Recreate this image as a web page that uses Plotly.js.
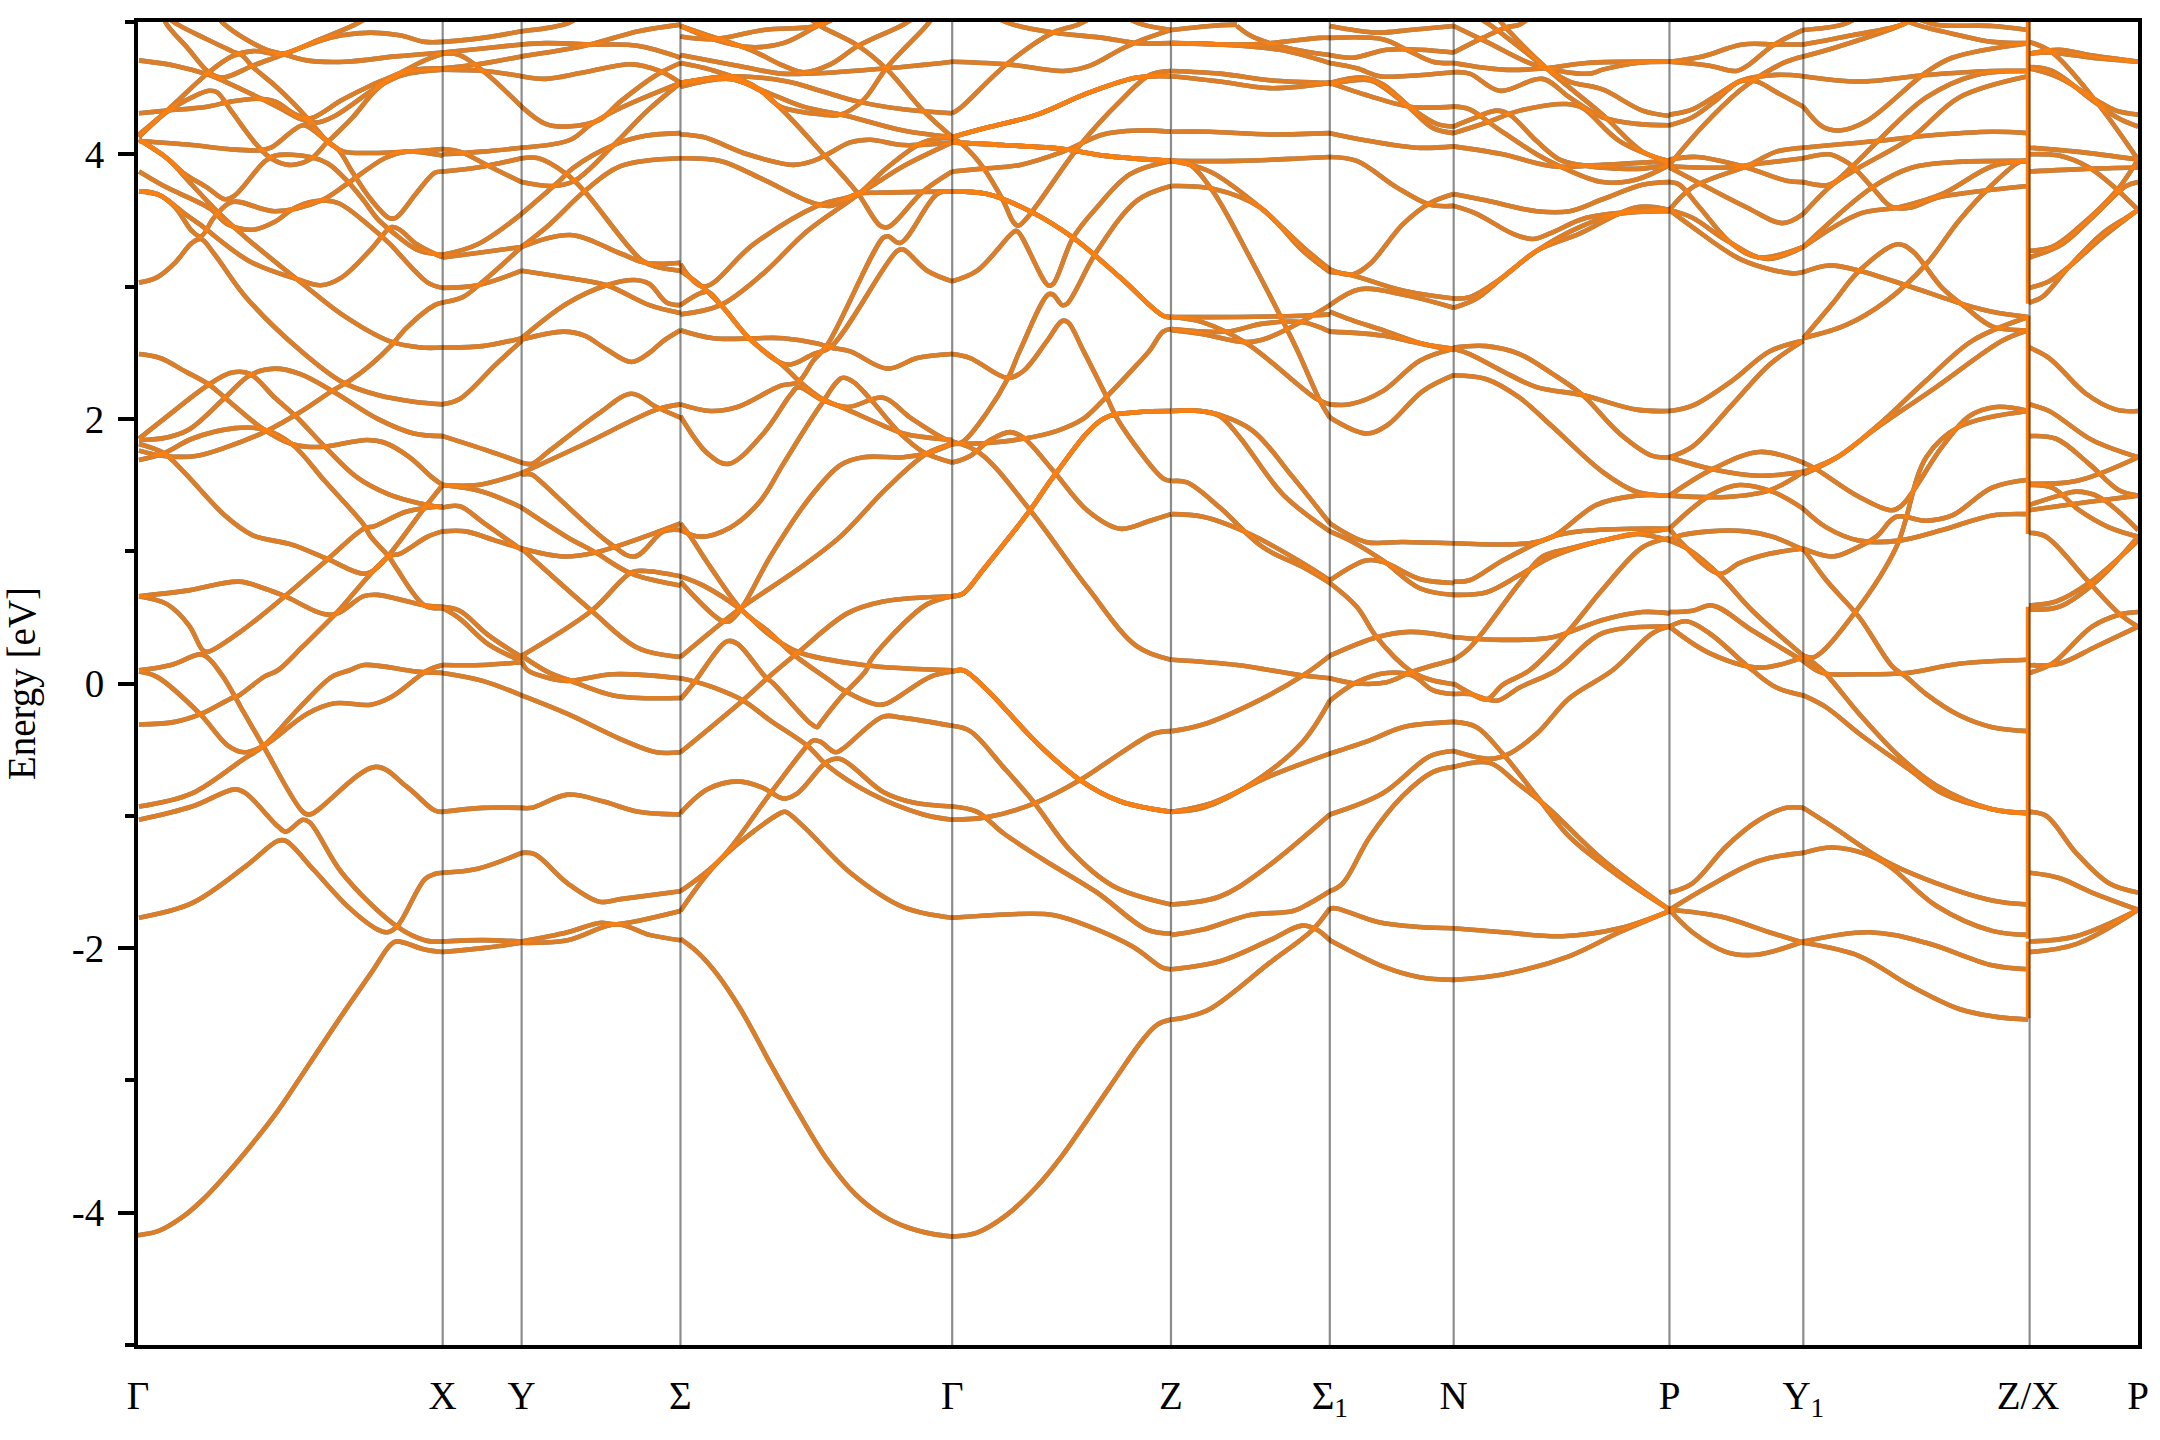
<!DOCTYPE html>
<html><head><meta charset="utf-8"><script src="https://cdn.plot.ly/plotly-3.0.1.min.js"></script>
<style>html,body{margin:0;padding:0;background:#fff}</style></head><body><div id="c" style="width:2160px;height:1440px"></div>
<script>
const kTicks=[0,305,384,543,815,1034,1193,1317,1533,1667,1892,2002];
const kLabels=['Γ','X','Y','Σ','Γ','Z','Σ<sub>1</sub>','N','P','Y<sub>1</sub>','Z/X','P'];
const eTicks=[-4,-2,0,2,4];
const eLabels=['-4','-2','0','2','4'];
const jumpZX=[[5,2.87],[2.78,1.13],[.58,-1.93],[-1.95,-2.53]];
// each band piece: k, E, k, E ...
const GX=[
[24,5.06,29,4.98,50,4.80,71,4.62,85,4.58,115,4.67,144,4.75,183,4.86,204,4.90,233,4.92,262,4.90,287,4.85,305,4.85],
[78,5.05,87,4.98,108,4.87,129,4.79,144,4.76,169,4.71,208,4.70,258,4.74,305,4.77],
[1,4.15,29,4.33,71,4.62,94,4.74,115,4.78,144,4.76,179,4.86,217,4.98,240,5.08],
[25,5.06,40,4.98,69,4.87,97,4.77,104,4.75,115,4.66,137,4.52,155,4.39,172,4.25,188,4.11,201,4.03,215,3.86,233,3.66,251,3.52,258,3.52,279,3.71,297,3.86,305,3.87],
[1,4.71,37,4.67,71,4.60,87,4.55,126,4.41,144,4.34,165,4.26,179,4.24,197,4.29,240,4.51,265,4.60,305,4.64],
[1,4.31,29,4.33,69,4.36,94,4.40,119,4.42,137,4.40,158,4.30,172,4.27,204,4.41,233,4.52,258,4.60,287,4.71,305,4.76],
[1,4.13,29,4.32,54,4.43,71,4.48,79,4.47,94,4.32,119,4.07,133,3.97,151,3.92,172,3.96,188,4.08,195,4.13,215,4.28,240,4.50,265,4.62,305,4.65],
[1,4.10,54,4.07,90,4.04,122,4.03,133,4.05,165,4.22,176,4.18,194,4.07,206,4.02,233,4.01,269,4.02,305,4.04],
[1,4.11,29,3.97,47,3.85,69,3.75,87,3.66,97,3.69,126,3.94,137,3.99,172,3.98,190,3.93,208,3.81,226,3.65,240,3.51,255,3.41,279,3.28,305,3.24],
[1,3.87,26,3.76,72,3.59,90,3.47,115,3.43,137,3.49,158,3.60,183,3.65,201,3.63,233,3.45,251,3.33,290,3.03,305,2.99],
[1,3.72,19,3.70,37,3.60,54,3.42,63,3.38,76,3.52,94,3.64,137,3.57,183,3.65,208,3.77,247,3.97,269,4.02,297,4.00,305,3.99],
[1,3.72,22,3.69,47,3.55,62,3.47,112,3.19,162,3.05,183,3.01,204,3.07,233,3.28,254,3.45,262,3.43,279,3.32,305,3.22],
[1,4.11,29,3.97,54,3.77,79,3.57,108,3.37,165,3.02,204,2.79,251,2.59,283,2.54,305,2.54],
[1,3.03,19,3.07,37,3.18,54,3.33,63,3.36,76,3.25,108,2.92,162,2.52,204,2.28,240,2.18,276,2.13,305,2.11],
[1,1.76,26,1.72,58,1.72,90,1.79,129,1.91,162,2.05,194,2.21,212,2.29,233,2.41,254,2.56,269,2.69,297,2.86,305,2.88],
[1,2.49,22,2.46,47,2.36,71,2.26,87,2.16,126,1.92,154,1.81,169,1.79,187,1.79,229,1.84,247,1.82,272,1.71,294,1.56,305,1.50],
[1,1.85,26,2.00,71,2.26,94,2.35,112,2.34,137,2.16,158,2.02,187,1.79,219,1.56,251,1.43,283,1.36,305,1.33],
[1,1.84,29,1.86,51,1.92,87,2.16,112,2.33,137,2.38,162,2.34,197,2.20,240,2.00,276,1.89,305,1.87],
[1,1.69,26,1.74,54,1.85,97,1.93,126,1.92,154,1.81,187,1.53,226,1.20,233,1.11,251,.96,258,.88,287,.59,305,.57],
[1,1.81,26,1.74,47,1.59,87,1.27,115,1.12,154,1.05,190,.94,226,.83,240,.88,287,1.33,305,1.50],
[1,.66,29,.60,51,.44,65,.25,70,.24,104,.40,147,.66,190,.94,226,1.17,237,1.19,269,1.30,305,1.34],
[1,-.31,37,-.29,63,-.23,94,-.11,101,-.09,126,.05,140,.10,165,.28,197,.52,251,.96,262,.98,290,1.11,305,1.15],
[1,.66,47,.70,101,.77,126,.72,147,.66,194,.52,226,.66,240,.67,287,.59,305,.58],
[1,.10,33,.14,63,.22,72,.18,87,.03,103,-.18,126,-.48,165,-.97,172,-.99,238,-.63,269,-.78,297,-.96,305,-.97],
[1,.09,19,.05,62,-.23,90,-.47,106,-.52,126,-.47,169,-.23,197,-.15,233,-.16,254,-.10,290,.10,305,.14],
[1,-.93,54,-.83,104,-.58,126,-.47,162,-.18,194,.05,212,.10,226,.14,279,.09,305,.08],
[1,-1.03,54,-.93,97,-.80,108,-.83,140,-1.08,148,-1.12,165,-1.03,172,-1.05,204,-1.43,258,-1.83,287,-1.94,305,-1.95],
[1,-1.77,54,-1.66,108,-1.38,140,-1.19,148,-1.19,176,-1.41,212,-1.70,240,-1.86,250,-1.88,260,-1.83,287,-1.48,297,-1.44,305,-1.43],
[0,-4.17,20,-4.14,45,-4.03,65,-3.90,85,-3.74,110,-3.52,140,-3.23,165,-2.95,194,-2.62,212,-2.42,235,-2.17,251,-1.99,258,-1.95,287,-2.01,305,-2.03]];
const XY=[
[305,4.85,345,4.88,384,4.93],[305,4.77,345,4.80,384,4.83],[305,4.76,322,4.75,347,4.62,384,4.36],[305,4.65,340,4.68,384,4.74],[305,4.64,347,4.63,384,4.59],
[305,4.04,322,4.02,354,3.90,384,3.79],[305,4.00,345,4.02,384,4.05],[305,3.87,340,3.90,384,3.97],[305,3.24,340,3.32,384,3.55],[305,3.22,345,3.26,384,3.30],
[305,2.99,340,3.01,384,3.12],[305,2.88,325,2.92,347,3.05,384,3.30],[305,2.54,345,2.55,384,2.61],[305,2.11,322,2.15,358,2.41,384,2.59],[305,1.87,350,1.76,384,1.67],
[305,1.50,340,1.50,384,1.59],[305,1.50,345,1.45,384,1.33],[305,1.33,322,1.34,345,1.22,384,1.01],[305,1.15,328,1.15,358,1.08,384,1.02],[305,.58,322,.55,350,.37,384,.20],
[305,.57,322,.49,350,.30,384,.17],[305,.14,345,.14,384,.16],[305,.08,345,.02,384,-.09],[305,-.97,345,-.94,384,-.94],[305,-1.43,340,-1.40,384,-1.28],[305,-1.95,345,-1.94,384,-1.95],[305,-2.03,345,-2.00,384,-1.96]];
const YS=[
[384,4.93,430,4.99,445,5.06],
[384,4.83,408,4.84,458,4.83,500,4.82,543,4.73],
[384,4.74,447,4.82,501,4.93,543,4.98],
[384,4.59,408,4.57,447,4.62,494,4.68,522,4.63,543,4.54],
[384,4.36,408,4.23,430,4.21,462,4.26,483,4.40,519,4.60,543,4.69],
[384,4.05,433,4.11,454,4.23,483,4.35,543,4.54],
[384,3.97,401,3.97,429,3.85,447,3.72,504,3.20,519,3.15,543,3.12],
[384,3.79,415,3.76,437,3.80,476,4.07,510,4.33,543,4.54],
[384,3.55,422,3.80,436,3.90,476,4.07,508,4.14,543,4.16],
[384,3.30,412,3.47,447,3.72,483,3.91,543,3.97],
[384,3.30,433,3.39,483,3.25,508,3.18,543,3.18],
[384,3.12,426,3.07,469,3.01,512,2.86,543,2.80],
[384,2.61,429,2.87,469,3.01,497,3.05,512,3.02,529,2.88,543,2.86],
[384,2.60,426,2.66,447,2.63,468,2.53,494,2.43,512,2.50,526,2.59,543,2.67],
[384,1.67,394,1.66,412,1.76,461,2.04,494,2.19,519,2.09,543,2.01],
[384,1.59,447,1.81,519,2.07,543,2.11],
[384,1.33,429,1.11,458,.99,494,.83,543,.74],
[384,1.58,394,1.58,401,1.54,472,1.06,497,.96,526,1.15,543,1.16],
[384,.21,454,.55,494,.84,508,.85,543,.81],
[384,1.02,454,.55,500,.27,543,.20],
[384,1.02,426,.96,458,.99,543,1.21],
[384,.17,390,.10,412,.04,430,.02,476,.07,543,.04],
[384,.21,412,.08,430,.03,476,-.09,543,-.11],
[384,-.09,430,-.23,483,-.42,519,-.52,543,-.52],
[384,-.94,394,-.94,430,-.84,465,-.89,501,-.97,543,-.99],
[384,-1.28,397,-1.29,430,-1.51,462,-1.65,483,-1.63,543,-1.57],
[384,-1.95,430,-1.88,462,-1.81,479,-1.82,543,-1.72],
[384,-1.96,430,-1.94,479,-1.82,512,-1.90,543,-1.94]];
const SG=[
[543,4.54,593,4.59,650,4.55,683,4.48,720,4.40,766,4.34,815,4.31],
[543,4.51,593,4.57,623,4.48,643,4.36,686,4.30,703,4.30,726,4.41,750,4.66,790,4.98,800,5.08],
[543,4.69,573,4.64,616,4.52,643,4.35,686,4.00,720,3.71,743,3.46,751,3.45,786,3.72,815,3.87],
[543,4.75,600,4.67,643,4.61,673,4.61,750,4.65,815,4.70],
[543,4.54,593,4.57,626,4.48,666,4.36,710,4.29,766,4.18,815,4.13],
[543,4.89,576,4.87,626,4.94,680,4.97,700,5.04],
[543,4.97,576,4.87,613,4.81,646,4.84,680,4.97,700,5.05],
[543,4.97,570,4.90,613,4.79,646,4.67,666,4.62,693,4.68,721,4.82,766,4.98,780,5.05],
[670,5.04,683,4.97,721,4.82,750,4.64,786,4.33,815,4.13],
[543,4.15,566,4.13,610,4.00,656,3.92,676,3.95,690,4.00,713,4.09,733,4.11,766,4.07,815,4.09],
[543,3.97,583,3.95,623,3.82,673,3.64,693,3.61,720,3.70,746,3.71,815,3.72],
[543,3.17,566,3.0,616,3.32,680,3.61,720,3.70,766,3.91,815,4.09],
[543,2.79,583,2.86,626,3.10,670,3.42,723,3.71,750,3.90,786,4.09,815,4.13],
[543,3.12,563,3.01,586,2.84,613,2.60,650,2.41,676,2.49,693,2.54,760,3.27,766,3.28,790,3.12,815,3.04],
[543,2.86,563,2.95,571,2.96,586,2.84,613,2.60,646,2.40,661,2.29,683,2.16,710,2.07,746,1.95,766,1.89,815,1.84],
[543,2.67,576,2.61,646,2.61,680,2.57,693,2.54,713,2.51,750,2.38,780,2.46,815,2.49],
[543,2.11,573,2.06,600,2.09,643,2.25,661,2.28,676,2.44,690,2.56,746,3.37,751,3.38,763,3.33,800,3.70,815,3.72],
[543,2.02,570,1.74,591,1.66,626,1.89,653,2.18,661,2.24,683,2.15,710,2.09,746,2.16,773,2.01,810,1.84,815,1.83],
[543,1.16,563,1.11,593,1.18,623,1.38,646,1.66,683,2.10,705,2.31,716,2.28,733,2.15,763,1.89,786,1.75,815,1.67],
[543,.20,583,.45,605,.58,660,.86,703,1.11,750,1.48,790,1.74,815,1.81],
[543,.77,583,.48,592,.47,605,.58,633,.96,673,1.41,703,1.65,726,1.71,766,1.71,790,1.74,815,1.81],
[543,.81,566,.74,605,.55,630,.38,660,.24,726,.14,815,.10],
[543,1.21,553,1.11,573,.88,605,.55,630,.40,656,.22,693,.02,706,-.05,740,-.16,750,-.15,793,.05,815,.09],
[543,-.12,556,.0,590,.32,600,.30,628,.05,636,0,673,-.30,680,-.33,683,-.30,703,-.11,729,.10,733,.17,766,.45,790,.60,815,.66],
[543,-.52,605,-.13,633,.06,660,.23,710,.53,746,.62,815,.66],
[543,.04,555,.02,576,-.03,606,-.13,633,-.28,670,-.47,690,-.62,733,-.83,786,-.99,815,-1.03],
[543,-.98,570,-.80,601,-.74,626,-.79,646,-.87,660,-.83,690,-.59,703,-.57,746,-.82,776,-.90,815,-.93],
[543,-1.57,583,-1.33,633,-.83,670,-.47,676,-.43,683,-.44,698,-.52,706,-.49,746,-.25,766,-.26,815,-.32],
[543,-1.72,583,-1.33,643,-.98,648,-.97,666,-1.08,713,-1.43,766,-1.69,815,-1.77],
[543,-1.93,560,-2.03,580,-2.20,603,-2.46,635,-2.90,663,-3.27,690,-3.60,718,-3.86,745,-4.02,770,-4.11,795,-4.16,815,-4.18]];
const GZ=[
[815,4.70,871,4.68,926,4.63,953,4.67,983,4.79,1000,4.85,1034,4.94],
[815,4.31,823,4.35,871,4.69,916,4.92,941,4.98,960,5.06],
[860,5.03,876,4.98,916,4.92,966,4.88,1000,4.84,1034,4.84],
[990,5.03,1006,4.98,1034,4.94],
[815,4.13,849,4.20,900,4.30,950,4.46,1000,4.58,1034,4.59],
[815,4.13,849,4.20,900,4.30,950,4.46,1000,4.58,1034,4.59],
[815,3.87,843,3.89,883,3.92,926,4.02,966,4.15,1000,4.18,1034,4.17],
[815,4.09,866,4.07,926,4.04,966,3.99,1034,3.95],
[815,4.09,866,4.07,926,4.04,966,3.99,1034,3.95],
[815,4.13,826,4.07,846,3.90,866,3.65,876,3.49,881,3.46,890,3.52,943,4.07,983,4.40,1013,4.60,1034,4.63],
[815,3.72,850,3.70,893,3.57,936,3.37,983,3.07,1026,2.78,1034,2.77],
[815,3.72,850,3.70,893,3.57,936,3.37,983,3.07,1026,2.78,1034,2.77],
[815,3.04,840,3.12,876,3.41,880,3.42,911,3.01,916,3.02,936,3.37,960,3.60,993,3.85,1034,3.95],
[815,1.81,826,1.83,850,2.05,871,2.31,883,2.52,911,2.94,916,2.94,925,2.86,930,2.87,960,3.27,1000,3.65,1034,3.76],
[815,2.49,833,2.46,870,2.31,886,2.36,910,2.59,925,2.74,931,2.73,946,2.52,970,2.16,981,1.99,1026,1.55,1034,1.53],
[815,1.67,833,1.72,853,1.84,873,1.90,886,1.86,916,1.61,950,1.31,983,1.17,1013,1.23,1034,1.28],
[815,1.83,843,1.74,893,1.31,950,.73,1000,.28,1034,.18],
[815,1.81,853,1.82,886,1.85,920,1.91,946,2.00,966,2.14,1000,2.41,1013,2.52,1026,2.66,1034,2.68],
[815,.66,826,.68,846,.86,893,1.31,918,1.58,966,2.0,1000,2.05,1034,2.06],
[815,.66,826,.68,846,.86,893,1.31,918,1.58,966,2.0,1000,2.05,1034,2.06],
[815,.09,826,.10,850,-.05,900,-.45,943,-.73,983,-.89,1034,-.97],
[815,.09,826,.10,850,-.05,900,-.45,943,-.73,983,-.89,1034,-.97],
[815,-.32,833,-.36,866,-.63,896,-.89,933,-1.26,976,-1.53,1034,-1.67],
[815,-.93,840,-.97,866,-1.13,906,-1.33,960,-1.58,1010,-1.86,1034,-1.89],
[815,-1.03,850,-1.01,896,-.91,943,-.73,983,-.53,1016,-.38,1034,-.36],
[815,-1.77,893,-1.74,916,-1.75,950,-1.83,996,-1.99,1026,-2.15,1034,-2.16],
[815,-4.18,840,-4.15,869,-4.02,900,-3.80,924,-3.58,950,-3.30,979,-2.98,1005,-2.70,1020,-2.58,1034,-2.54]];
const ZS=[
[1035,4.94,1073,4.97,1100,4.98],
[1035,4.84,1083,4.83,1143,4.79,1193,4.69],
[1100,4.97,1113,4.90,1133,4.84,1166,4.78,1193,4.75],
[1035,4.84,1100,4.83,1133,4.84,1183,4.88,1193,4.88],
[1035,4.63,1083,4.61,1133,4.56,1193,4.54],
[1035,4.59,1083,4.55,1133,4.50,1193,4.54],
[1035,4.17,1073,4.17,1133,4.15,1193,4.16],
[1035,3.95,1100,3.95,1166,3.97,1193,3.98],
[1035,3.95,1053,3.92,1076,3.72,1113,3.22,1146,2.74,1161,2.51,1183,2.14,1193,2.01],
[1035,3.95,1073,3.87,1123,3.60,1166,3.30,1193,3.13],
[1035,3.76,1076,3.74,1123,3.60,1166,3.27,1193,3.11],
[1035,2.77,1100,2.77,1166,2.78,1193,2.79],
[1035,2.77,1066,2.73,1110,2.57,1180,2.15,1193,2.11],
[1035,2.67,1066,2.64,1110,2.58,1130,2.61,1166,2.74,1193,2.86],
[1035,2.68,1090,2.66,1126,2.72,1166,2.73,1193,2.66],
[1035,2.06,1063,2.06,1083,2.03,1116,1.91,1156,1.56,1193,1.21],
[1035,2.06,1063,2.06,1083,2.02,1103,1.86,1146,1.43,1193,1.15],
[1035,1.53,1050,1.52,1083,1.33,1126,1.03,1166,.88,1193,.76],
[1035,1.28,1066,1.26,1113,1.13,1166,.91,1193,.78],
[1035,.18,1100,.14,1166,.06,1193,.04],
[1035,-.36,1066,-.31,1116,-.15,1166,.06,1193,.21],
[1035,-.97,1066,-.94,1116,-.75,1166,-.44,1193,-.13],
[1035,-.97,1076,-.90,1133,-.70,1193,-.53],
[1035,-1.67,1083,-1.61,1126,-1.41,1193,-.99],
[1035,-1.90,1066,-1.86,1113,-1.75,1156,-1.72,1173,-1.66,1193,-1.57],
[1035,-2.16,1083,-2.10,1133,-1.94,1165,-1.83,1180,-1.86,1193,-1.94],
[1035,-2.54,1050,-2.52,1073,-2.46,1133,-2.11,1176,-1.86,1193,-1.70]];
const SN=[
[1193,4.97,1240,4.92,1273,4.94,1317,4.97],
[1193,4.88,1246,4.87,1270,4.79,1296,4.70,1317,4.69],
[1193,4.75,1216,4.73,1250,4.79,1283,4.79,1317,4.77],
[1193,4.69,1220,4.65,1243,4.59,1266,4.59,1317,4.62],
[1193,4.54,1226,4.58,1246,4.53,1276,4.34,1300,4.23,1317,4.21],
[1193,4.54,1233,4.44,1273,4.36,1317,4.36],
[1193,4.53,1233,4.56,1246,4.51,1273,4.35,1296,4.20,1317,4.16],
[1193,4.16,1233,4.10,1280,4.05,1317,4.06],
[1193,3.98,1220,3.95,1260,3.75,1293,3.62,1317,3.61],
[1193,3.13,1215,3.09,1233,3.17,1266,3.47,1293,3.63,1317,3.70],
[1193,3.11,1213,3.09,1266,2.97,1317,2.91],
[1193,2.86,1223,2.98,1266,2.94,1317,2.84],
[1193,2.81,1210,2.76,1250,2.66,1285,2.57,1317,2.52],
[1193,2.66,1246,2.63,1283,2.57,1317,2.53],
[1193,2.11,1213,2.11,1246,2.21,1283,2.44,1317,2.53],
[1193,2.01,1229,1.89,1250,1.95,1286,2.21,1317,2.33],
[1193,1.21,1229,1.07,1266,1.07,1317,1.06],
[1193,1.15,1216,1.07,1246,.93,1283,.72,1317,.67],
[1193,.78,1229,.93,1246,.92,1283,.79,1317,.76],
[1193,.76,1220,.58,1240,.35,1273,.10,1293,.03,1317,-.005],
[1193,.21,1240,.35,1273,.39,1317,.35],
[1193,.04,1220,.0,1250,.01,1276,.09,1317,.18],
[1193,-.13,1220,.01,1250,.08,1276,.06,1296,-.05,1317,-.08],
[1193,-.53,1233,-.43,1266,-.33,1317,-.29],
[1193,-.99,1246,-.83,1293,-.55,1317,-.51],
[1193,-1.57,1206,-1.51,1233,-1.16,1266,-.85,1296,-.67,1317,-.63],
[1193,-1.70,1200,-1.70,1240,-1.80,1283,-1.84,1317,-1.85],
[1193,-1.94,1250,-2.15,1283,-2.22,1317,-2.24]];
const NP=[
[1317,4.77,1346,4.88,1370,4.96,1383,4.98,1395,5.05],
[1317,4.97,1350,4.85,1400,4.67,1453,4.61,1466,4.64,1500,4.69,1533,4.70],
[1340,5.04,1353,4.98,1376,4.85,1410,4.65,1433,4.55,1466,4.49,1506,4.33,1533,4.29],
[1360,5.04,1370,4.95,1410,4.65,1466,4.30,1506,4.02,1533,3.95],
[1317,4.69,1366,4.64,1410,4.65,1450,4.69,1533,4.70],
[1317,4.62,1333,4.61,1363,4.48,1406,4.57,1433,4.43,1466,4.28,1500,4.23,1533,4.22],
[1317,4.36,1333,4.34,1360,4.20,1400,4.00,1426,3.90,1466,3.79,1500,3.81,1533,3.92],
[1317,4.21,1333,4.26,1360,4.33,1373,4.30,1400,4.10,1423,3.96,1443,3.92,1500,3.89,1533,3.92],
[1317,4.16,1350,4.24,1383,4.33,1430,4.38,1446,4.35,1483,4.10,1533,3.94],
[1317,4.06,1366,4.00,1416,3.91,1466,3.92,1533,3.95],
[1317,3.70,1350,3.65,1400,3.57,1433,3.57,1466,3.66,1506,3.77,1533,3.79],
[1317,3.61,1340,3.55,1376,3.40,1396,3.36,1416,3.41,1450,3.52,1533,3.58],
[1317,2.91,1333,2.92,1366,3.07,1400,3.27,1443,3.40,1500,3.60,1533,3.58],
[1317,2.84,1340,2.91,1366,3.07,1400,3.27,1443,3.45,1483,3.55,1533,3.57],
[1317,2.54,1350,2.55,1383,2.49,1416,2.34,1446,2.18,1483,1.89,1516,1.72,1533,1.71],
[1317,2.53,1333,2.49,1366,2.36,1400,2.24,1446,2.18,1500,2.07,1533,2.06],
[1317,2.33,1350,2.30,1383,2.16,1416,1.94,1466,1.60,1500,1.45,1533,1.42],
[1317,1.06,1393,1.06,1416,1.11,1460,1.35,1500,1.42,1533,1.42],
[1317,.77,1333,.78,1366,.93,1416,1.11,1443,1.15,1500,1.17,1533,1.17],
[1317,.67,1350,.69,1383,.82,1416,.96,1466,1.08,1533,1.17],
[1317,.18,1333,.27,1383,.76,1406,.96,1433,1.02,1466,1.08,1500,1.13,1533,1.08],
[1317,.35,1366,.33,1416,.35,1466,.48,1506,.54,1533,.53],
[1317,-.29,1340,-.33,1366,-.53,1400,-.85,1433,-1.16,1483,-1.46,1533,-1.71],
[1317,-.51,1353,-.57,1370,-.54,1400,-.38,1433,-.11,1476,.10,1516,.38,1533,.43],
[1317,0,1333,-.07,1350,-.12,1366,-.01,1393,.10,1430,.38,1466,.71,1506,1.03,1533,1.10],
[1317,-.08,1333,-.08,1360,-.13,1383,-.03,1420,.10,1466,.38,1533,.43],
[1317,-.63,1353,-.60,1380,-.75,1410,-.93,1466,-1.33,1533,-1.71],
[1317,-1.85,1366,-1.88,1426,-1.91,1483,-1.85,1533,-1.72],
[1317,-2.24,1366,-2.20,1433,-2.06,1483,-1.88,1533,-1.72]];
const PY=[
[1533,4.70,1566,4.74,1606,4.83,1640,4.83,1667,4.83],
[1533,4.70,1573,4.67,1600,4.63,1613,4.68,1636,4.82,1667,4.94],
[1533,4.30,1556,4.34,1583,4.46,1606,4.56,1640,4.60,1667,4.59],
[1533,4.22,1556,4.28,1580,4.41,1603,4.55,1620,4.55,1640,4.47,1667,4.36],
[1533,3.92,1566,4.21,1603,4.48,1623,4.59,1650,4.70,1667,4.74],
[1533,3.96,1560,3.98,1606,3.91,1650,3.80,1667,3.79],
[1533,3.91,1590,3.90,1623,3.93,1667,3.97],
[1533,3.90,1566,3.77,1610,3.60,1646,3.48,1667,3.55],
[1533,3.58,1556,3.75,1610,3.91,1640,4.02,1667,4.05],
[1533,3.79,1543,3.77,1563,3.60,1596,3.32,1623,3.22,1667,3.30],
[1533,3.58,1556,3.52,1590,3.35,1630,3.21,1667,3.30],
[1533,3.58,1556,3.45,1606,3.20,1656,3.10,1667,3.11],
[1533,2.06,1556,2.10,1596,2.29,1633,2.51,1667,2.59],
[1533,1.71,1556,1.79,1596,2.11,1633,2.41,1667,2.59],
[1533,1.71,1576,1.62,1623,1.57,1667,1.60],
[1533,1.42,1576,1.62,1623,1.75,1667,1.67],
[1533,1.42,1590,1.41,1633,1.46,1667,1.60],
[1533,1.17,1573,1.42,1603,1.50,1636,1.45,1667,1.32],
[1533,1.08,1540,1.11,1573,1.15,1610,1.15,1636,1.11,1667,1.01],
[1533,1.17,1543,1.08,1583,.83,1603,.91,1633,.98,1667,1.02],
[1533,1.08,1553,1.01,1583,.82,1616,.55,1667,.21],
[1533,.54,1556,.55,1576,.59,1616,.40,1667,.17],
[1533,.43,1550,.47,1573,.38,1616,.10,1640,-.03,1667,-.09],
[1533,.43,1573,.23,1623,.12,1667,.20],
[1533,-1.58,1556,-1.51,1590,-1.23,1623,-1.03,1650,-.94,1667,-.94],
[1533,-1.71,1573,-1.53,1623,-1.34,1667,-1.28],
[1533,-1.71,1583,-1.76,1633,-1.88,1667,-1.96],
[1533,-1.71,1556,-1.88,1590,-2.03,1620,-2.05,1667,-1.95]];
const YZ=[
[1667,4.94,1706,4.98,1725,5.05],
[1667,4.83,1716,4.90,1766,4.98,1780,5.04],
[1667,4.74,1696,4.80,1766,4.98,1780,5.04],
[1765,5.03,1780,4.98,1823,4.90,1856,4.85,1892,4.84],
[1780,5.03,1800,4.98,1856,4.97,1892,4.94],
[1667,4.59,1723,4.55,1790,4.60,1856,4.63,1892,4.63],
[1667,4.36,1686,4.21,1703,4.18,1730,4.25,1790,4.62,1816,4.73,1892,4.84],
[1667,4.05,1740,4.10,1790,4.14,1856,4.17,1892,4.16],
[1667,3.97,1693,4.0,1706,3.96,1716,3.91,1736,3.75,1756,3.60,1776,3.60,1800,3.67,1843,3.72,1892,3.76],
[1667,3.79,1693,3.77,1716,3.91,1743,4.11,1790,4.43,1840,4.60,1892,4.63],
[1667,3.55,1696,3.77,1723,3.90,1776,4.13,1823,4.43,1892,4.59],
[1667,3.30,1736,3.75,1776,3.90,1816,3.94,1892,3.95],
[1667,3.30,1723,3.55,1763,3.60,1806,3.70,1856,3.91,1892,3.95],
[1667,3.11,1693,3.16,1723,3.12,1770,3.01,1830,2.86,1856,2.81,1892,2.77],
[1667,2.61,1710,2.71,1750,2.89,1790,3.17,1823,3.50,1856,3.77,1883,3.94,1892,3.95],
[1667,2.61,1696,2.87,1723,3.12,1761,3.32,1776,3.27,1806,2.99,1830,2.84,1856,2.70,1892,2.67],
[1667,1.60,1703,1.72,1740,1.94,1790,2.29,1836,2.59,1892,2.77],
[1667,1.58,1703,1.72,1740,1.93,1800,2.24,1866,2.59,1892,2.67],
[1667,1.67,1680,1.62,1723,1.41,1755,1.31,1766,1.35,1806,1.79,1833,2.02,1860,2.09,1892,2.06],
[1667,1.32,1690,1.18,1723,1.08,1763,1.08,1806,1.16,1856,1.27,1892,1.28],
[1667,1.02,1696,.96,1716,1.01,1740,1.11,1760,1.26,1790,1.23,1816,1.27,1856,1.48,1892,1.54],
[1667,1.02,1690,.78,1723,.50,1756,.13,1770,.05,1790,-.08,1823,-.24,1856,-.33,1892,-.36],
[1667,.17,1686,.08,1723,.07,1770,.08,1823,.15,1892,.18],
[1667,.21,1678,.20,1720,.55,1760,1.03,1790,1.71,1823,1.94,1892,2.06],
[1667,-.09,1690,-.18,1723,-.38,1773,-.65,1806,-.83,1856,-.95,1892,-.98],
[1667,.21,1686,.10,1723,-.23,1763,-.55,1800,-.77,1856,-.95,1892,-.98],
[1667,-.94,1696,-1.08,1746,-1.33,1790,-1.48,1856,-1.64,1892,-1.67],
[1667,-1.28,1696,-1.24,1730,-1.29,1753,-1.38,1800,-1.68,1856,-1.87,1892,-1.90],
[1667,-1.95,1733,-1.88,1790,-1.96,1856,-2.13,1892,-2.16],
[1667,-1.96,1723,-2.06,1773,-2.28,1823,-2.46,1860,-2.52,1892,-2.54]];
const XP=[
[1893,4.85,1916,4.77,1960,4.40,2002,3.96],
[1893,4.76,1923,4.79,1953,4.75,2002,4.70],
[1893,4.76,1913,4.77,1956,4.73,2002,4.70],
[1893,4.66,1916,4.63,1956,4.41,1983,4.27,2002,4.21],
[1893,4.65,1923,4.58,1960,4.41,1980,4.33,2002,4.30],
[1893,4.05,1940,4.02,2002,3.96],
[1893,4.0,1923,3.99,1953,3.90,1980,3.74,2002,3.58],
[1893,3.87,1950,3.89,2002,3.90],
[1893,3.27,1916,3.30,1943,3.45,1980,3.72,2002,3.96],
[1893,3.22,1926,3.32,1956,3.52,1990,3.76,2002,3.79],
[1893,2.99,1913,3.04,1936,3.17,1966,3.37,2002,3.58],
[1893,2.88,1906,2.92,1933,3.15,1966,3.40,1990,3.52,2002,3.58],
[1893,2.54,1913,2.46,1950,2.19,1980,2.07,2002,2.06],
[1893,2.11,1913,2.06,1956,1.84,2002,1.71],
[1893,1.87,1920,1.85,1953,1.66,1983,1.46,2002,1.42],
[1893,1.51,1940,1.53,2002,1.71],
[1893,1.50,1916,1.48,1943,1.31,1973,1.18,2002,1.11],
[1893,1.35,1923,1.42,1940,1.45,1963,1.41,2002,1.16],
[1893,1.31,1950,1.37,2002,1.42],
[1893,1.14,1910,1.11,1950,.79,1983,.53,2002,.43],
[1893,.59,1920,.62,1953,.76,2002,1.08],
[1893,.56,1923,.58,1960,.77,2002,1.11],
[1893,.14,1923,.15,1960,.28,2002,.43],
[1893,.08,1916,.15,1956,.43,1983,.52,2002,.54],
[1893,-.97,1910,-1.0,1940,-1.28,1973,-1.51,2002,-1.58],
[1893,-1.43,1923,-1.47,1956,-1.58,2002,-1.71],
[1893,-1.95,1940,-1.91,2002,-1.71],
[1893,-2.03,1940,-1.97,2002,-1.71]];

const pieces=[].concat(GX,XY,YS,SG,GZ,ZS,SN,NP,PY,YZ,XP);
const split=p=>({x:p.filter((_,i)=>i%2===0),y:p.filter((_,i)=>i%2===1)});
const traces=[];
const bx=[],by=[];
pieces.forEach(p=>{const s=split(p);bx.push(...s.x,null);by.push(...s.y,null);});
const common={type:'scatter',mode:'lines',hoverinfo:'skip',showlegend:false,cliponaxis:true};
const W=4.6,S=1.0;
traces.push({...common,x:bx,y:by,connectgaps:false,line:{color:'#1f77b4',width:W,shape:'spline',smoothing:S}});
pieces.forEach(p=>{const s=split(p);traces.push({...common,x:s.x,y:s.y,line:{color:'rgba(255,127,14,0.85)',width:W,shape:'spline',smoothing:S}});});
jumpZX.forEach(j=>traces.push({...common,x:[kTicks[10],kTicks[10]],y:j,line:{color:'#ff7f0e',width:4.6}}));
const vx=[],vy=[];
kTicks.slice(1,11).forEach(k=>{vx.push(k+(k===kTicks[10]?1.5:0),k+(k===kTicks[10]?1.5:0),null);vy.push(-5,5,null);});
traces.push({...common,x:vx,y:vy,line:{color:'rgba(0,0,0,0.45)',width:2.2}});
const F='"Liberation Serif","Times New Roman",serif';
Plotly.newPlot('c',traces,{
 width:2160,height:1440,paper_bgcolor:'#fff',plot_bgcolor:'#fff',showlegend:false,
 margin:{l:138,r:22,t:22,b:95,pad:0},font:{family:F,size:39,color:'#000'},
 xaxis:{range:[0,2002],tickmode:'array',tickvals:kTicks,ticktext:kLabels,ticks:'',showgrid:false,zeroline:false,
   showline:true,mirror:true,linewidth:4,linecolor:'#000',tickfont:{family:F,size:39,color:'#000'},ticklabelstandoff:13},
 yaxis:{range:[-5,5],tickmode:'array',tickvals:eTicks,ticktext:eLabels,ticks:'outside',ticklen:16,tickwidth:4,tickcolor:'#000',
   showgrid:false,zeroline:false,showline:true,mirror:true,linewidth:4,linecolor:'#000',tickfont:{family:F,size:39,color:'#000'},ticklabelstandoff:6,
   minor:{tickvals:[-5,-3,-1,1,3,5],ticks:'outside',ticklen:9,tickwidth:4,tickcolor:'#000',showgrid:false},
   title:{text:'Energy [eV]',font:{family:F,size:39,color:'#000'},standoff:25}}
},{staticPlot:true,displayModeBar:false});
</script></body></html>
